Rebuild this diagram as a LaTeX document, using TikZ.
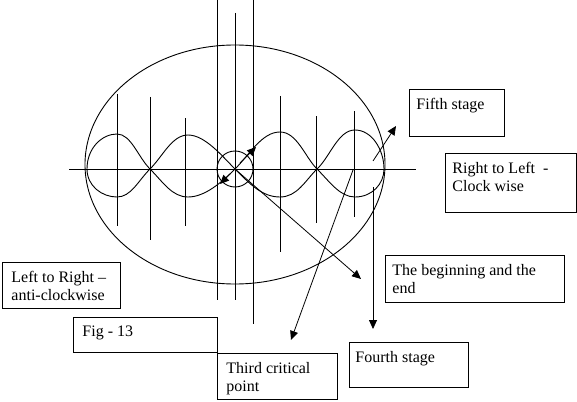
\documentclass[tikz,border=0pt]{standalone}
\usepackage{fontspec}
\setmainfont{Liberation Serif}
\usetikzlibrary{arrows.meta}

\begin{document}
\begin{tikzpicture}[
    x=1pt, y=-1pt,
    line width=0.9pt,
    every node/.style={font=\fontsize{16}{18}\selectfont},
    box/.style={draw, rectangle, anchor=north west, inner sep=0pt, line width=1pt},
    boxtext/.style={anchor=north west, align=left, inner xsep=7pt, inner ysep=8.5pt},
    arr/.style={-{Triangle[length=9pt,width=8pt]}, line width=0.8pt}
]
    \useasboundingbox (0,0) rectangle (577,401);

    % outer ellipse, axis and the small circle round the centre
    \draw (235,164.5) ellipse [x radius=150, y radius=119.5];
    \draw (69,169) -- (416,169);
    \draw (235,169) circle [radius=18];

    % long verticals through the centre
    \draw (217,0) -- (217,300);
    \draw (235,13) -- (235,300);
    \draw (253,0) -- (253,324);

    % short verticals
    \foreach \x/\a/\b in {117/94/226, 150/97/240, 185/118/226, 280/96/252, 316/116/223, 354/111/217}
        \draw (\x,\a) -- (\x,\b);

    % the two waves
    \draw (87,169) .. controls (87,148) and (102,134) .. (117,134)
        .. controls (131,134) and (138,157) .. (150,169)
        .. controls (163,182) and (172,197) .. (188,197)
        .. controls (205,197) and (222,182) .. (235,169)
        .. controls (250,154) and (262,132) .. (280,132)
        .. controls (297,132) and (305,157) .. (317,169)
        .. controls (330,182) and (340,197) .. (355,197)
        .. controls (372,197) and (384,184) .. (384,169);
    \draw (87,169) .. controls (87,186) and (102,197) .. (117,197)
        .. controls (131,197) and (138,181) .. (150,169)
        .. controls (163,156) and (172,135) .. (188,135)
        .. controls (205,135) and (222,156) .. (235,169)
        .. controls (250,184) and (262,197) .. (280,197)
        .. controls (297,197) and (305,181) .. (317,169)
        .. controls (330,157) and (338,130) .. (355,130)
        .. controls (372,130) and (384,150) .. (384,169);

    % boxes
    \node[box, minimum width=95, minimum height=47] (fifth) at (409,89) {};
    \node[boxtext] (fifthtxt) at (fifth.north west) {Fifth stage};
    \node[box, minimum width=131, minimum height=59] (rtl) at (445,153) {};
    \node[boxtext] (rtltxt) at (rtl.north west) {Right to Left~~-\\Clock wise};
    \node[box, minimum width=179, minimum height=47] (begin) at (385,255) {};
    \node[boxtext] (begintxt) at (begin.north west) {The beginning and the\\end};
    \node[box, minimum width=119, minimum height=45] (fourth) at (349,342) {};
    \node[boxtext, inner xsep=6pt] (fourthtxt) at (fourth.north west) {Fourth stage};
    \node[box, minimum width=120, minimum height=46] (third) at (217,353) {};
    \node[boxtext, inner xsep=9pt] (thirdtxt) at (third.north west) {Third critical\\point};
    \node[box, minimum width=118, minimum height=46] (ltr) at (2,262) {};
    \node[boxtext, inner xsep=9pt] (ltrtxt) at (ltr.north west) {Left to Right --\\anti-clockwise};
    \node[box, minimum width=144, minimum height=35] (fig) at (73,317) {};
    \node[boxtext, inner xsep=9pt] (figtxt) at (fig.north west) {Fig - 13};

    % arrows
    \coordinate (centre) at (235,169);
    \coordinate (upfrom) at (240,163);
    \coordinate (upto) at (256,147);
    \coordinate (downfrom) at (230,174);
    \coordinate (downto) at (220,184);
    \coordinate (fifthfrom) at (373,161);
    \coordinate (fifthto) at (396,126);
    \coordinate (fourthfrom) at (373,187);
    \coordinate (fourthto) at (373,329);
    \coordinate (thirdfrom) at (353,170);
    \coordinate (thirdto) at (291,340);
    \coordinate (beginto) at (361,279);

    \draw[arr] (upfrom) -- (upto);
    \draw[arr] (downfrom) -- (downto);
    \draw[arr] (fifthfrom) -- (fifthto);
    \draw[arr] (fourthfrom) -- (fourthto);
    \draw[arr] (thirdfrom) -- (thirdto);
    \draw[arr] (centre) -- (beginto);
\end{tikzpicture}
\end{document}
